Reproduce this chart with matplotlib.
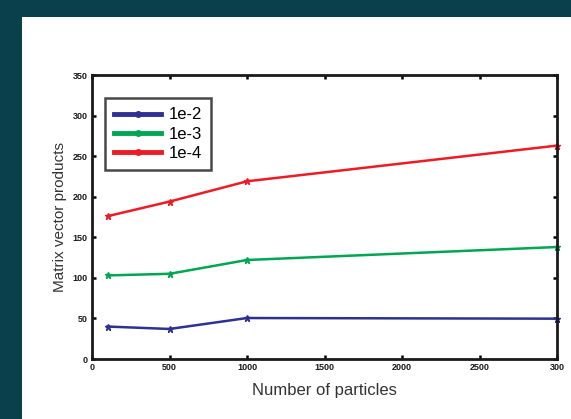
import matplotlib
matplotlib.use("Agg")
import matplotlib.pyplot as plt
from matplotlib.patches import Rectangle
from matplotlib.lines import Line2D

particles = [100, 500, 1000, 3000]
tol_labels = ["1e-2", "1e-3", "1e-4"]
mv_1e2 = [40, 37, 50.5, 49.7]
mv_1e3 = [103, 105, 122, 138]
mv_1e4 = [176, 194, 219, 263]
series = [mv_1e2, mv_1e3, mv_1e4]
colors = ["#2e3192", "#00a651", "#ed1c24"]
xticks = [0, 500, 1000, 1500, 2000, 2500, 3000]
xtick_labels = ["0", "500", "1000", "1500", "2000", "2500", "300"]
yticks = [0, 50, 100, 150, 200, 250, 300, 350]

W, H = 571, 419
fig = plt.figure(figsize=(W / 100, H / 100), dpi=100)
fig.patch.set_facecolor("#0a404c")
bg = Rectangle((22 / W, 0), 1, (H - 17) / H, transform=fig.transFigure,
               facecolor="white", edgecolor="none", zorder=-10)
fig.add_artist(bg)

ax = fig.add_axes([92 / W, (H - 359) / H, 465 / W, 284 / H])
ax.set_zorder(5)
ax.set_facecolor("white")
for ys, c in zip(series, colors):
    ax.plot(particles, ys, color=c, lw=1.8, marker="*", ms=4.5, mec=c, mfc=c, clip_on=False)

ax.set_xlim(0, 3000)
ax.set_ylim(0, 350)
ax.set_xticks(xticks)
ax.set_xticklabels(xtick_labels)
ax.set_yticks(yticks)
ax.tick_params(direction="in", length=3, width=1.8, top=True, right=True,
               labelsize=6.5, pad=3)
for lab in ax.get_xticklabels() + ax.get_yticklabels():
    lab.set_fontweight("bold")
    lab.set_family("Liberation Sans")
    lab.set_color("#1a1a1a")
for s in ax.spines.values():
    s.set_linewidth(2.0)
    s.set_color("#1a1a1a")

ax.set_xlabel("Number of particles", fontsize=12, family="Liberation Sans",
              color="#333333", labelpad=8)
ax.set_ylabel("Matrix vector products", fontsize=11, family="Liberation Sans",
              color="#333333", labelpad=4)

handles = [Line2D([], [], color=c, lw=3.5, marker="o", ms=4, mec=c, mfc=c) for c in colors]
leg = ax.legend(handles, tol_labels, loc="upper left", bbox_to_anchor=(0.028, 0.918),
                borderaxespad=0, fancybox=False, frameon=True, handlelength=2.8,
                prop={"family": "Liberation Sans", "size": 12}, labelspacing=0.25,
                borderpad=0.55, handletextpad=0.45)
leg.get_frame().set_edgecolor("#1a1a1a")
leg.get_frame().set_linewidth(1.8)

fig.savefig("out.png", dpi=100, facecolor=fig.get_facecolor())
